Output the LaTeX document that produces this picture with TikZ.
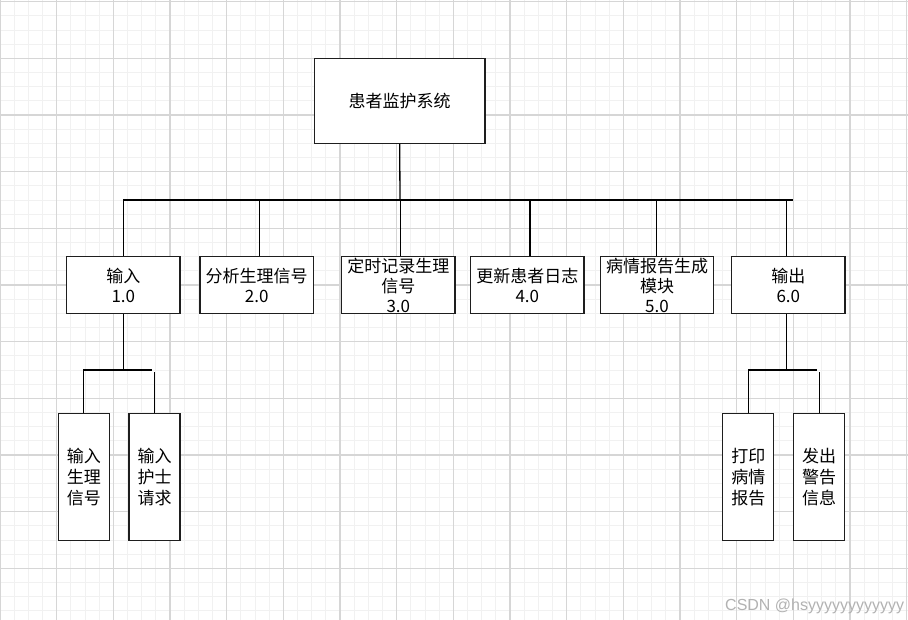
\documentclass[tikz,border=0pt]{standalone}
\usepackage{fontspec}
\newfontfamily\cjk{Noto Sans CJK SC}
\newfontfamily\wmfont{Liberation Sans}
\definecolor{gridminor}{HTML}{F1F1F1}
\definecolor{gridmajor}{HTML}{D6D6D6}
\definecolor{inkline}{HTML}{1E1E1E}
\begin{document}
\begin{tikzpicture}[x=1pt,y=-1pt,
  box/.style={draw=inkline,line width=1.3pt,fill=white,inner sep=0pt,align=center,
    font=\cjk\fontsize{17}{20}\selectfont},
  midbox/.style={box,minimum width=113.3pt,minimum height=56.7pt},
  leafbox/.style={box,minimum width=51pt,minimum height=127.4pt,font=\cjk\fontsize{17}{21}\selectfont},
  conn/.style={draw=black,line width=1.3pt},
  minorline/.style={draw=gridminor,line width=0.9pt},
  majorline/.style={draw=gridmajor,line width=1.1pt}]
\useasboundingbox (0,0) rectangle (908,620);
\fill[white] (0,0) rectangle (908,620);
% grid
\foreach \i in {0,...,64} {\draw[minorline] (\i*14.1667,0) -- (\i*14.1667,620);}
\foreach \j in {0,...,44} {\draw[minorline] (0,1.7+\j*14.1667) -- (908,1.7+\j*14.1667);}
\foreach \i in {0,...,16} {\draw[majorline] (\i*56.6667,0) -- (\i*56.6667,620);}
\foreach \j in {0,...,10} {\draw[majorline] (0,1.7+\j*56.6667) -- (908,1.7+\j*56.6667);}

% root
\node[box,minimum width=170.7pt,minimum height=85pt] (root) at (399.7,100.8) {患者监护系统};

% bus coordinates
\coordinate (busL) at (123.3,200);
\coordinate (busR) at (793.3,200);

% level 2
\node[midbox] (b1) at (123.3,285) {输入\\1.0};
\node[midbox] (b2) at (256.7,285) {分析生理信号\\2.0};
\node[midbox] (b3) at (398.3,285) {定时记录生理\\信号\\3.0};
\node[midbox] (b4) at (527.3,285) {更新患者日志\\4.0};
\node[midbox] (b5) at (657,285) {病情报告生成\\模块\\5.0};
\node[midbox] (b6) at (788.3,285) {输出\\6.0};

% level 3
\node[leafbox] (c1) at (83.8,477) {输入\\生理\\信号};
\node[leafbox] (c2) at (154.5,477) {输入\\护士\\请求};
\node[leafbox] (c3) at (748.3,477) {打印\\病情\\报告};
\node[leafbox] (c4) at (819.2,477) {发出\\警告\\信息};

% connectors level 1-2
\draw[conn] (b1.north) |- (busR);
\draw[conn] (root.south) -- ([xshift=0.3pt]root.south |- busL);
\draw[conn] ([xshift=2.4pt]b3.north) -- ([xshift=2.4pt]b3.north |- busL);
\draw[conn] ([xshift=2.6pt]b2.north) -- ([xshift=2.6pt]b2.north |- busL);
\draw[conn] ([xshift=2.7pt]b4.north) -- ([xshift=2.7pt]b4.north |- busL);
\draw[conn] ([xshift=-0.3pt]b5.north) -- ([xshift=-0.3pt]b5.north |- busL);
\draw[conn] ([xshift=-1.6pt]b6.north) -- ([xshift=-1.6pt]b6.north |- busL);

% connectors level 2-3 (left)
\coordinate (jl) at (123.3,370);
\coordinate (hlR) at (151.7,370);
\coordinate (hlR2) at (154.5,372);
\draw[conn] (b1.south) -- (jl);
\draw[conn] (c1.north) |- (hlR);
\draw[conn] (c2.north) -- (hlR2);

% connectors level 2-3 (right)
\coordinate (jr) at (786.7,370);
\coordinate (hrR) at (816.7,370);
\coordinate (hrR2) at (819.2,372);
\draw[conn] ([xshift=-1.6pt]b6.south) -- (jr);
\draw[conn] (c3.north) |- (hrR);
\draw[conn] (c4.north) -- (hrR2);

% watermark
\node[anchor=base west,inner sep=0pt,text=black!30,font=\wmfont\fontsize{16}{18}\selectfont] (wm) at (725,610.5) {CSDN @hsyyyyyyyyyyyy};
\end{tikzpicture}
\end{document}
